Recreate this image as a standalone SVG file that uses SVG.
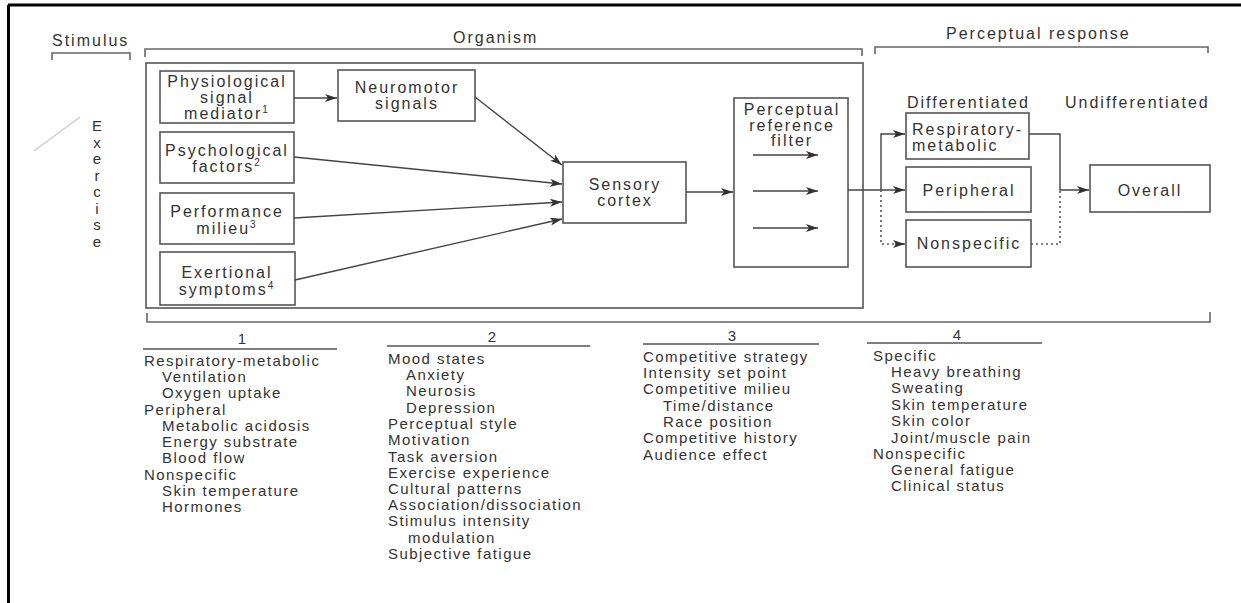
<svg xmlns="http://www.w3.org/2000/svg" width="1241" height="603" viewBox="0 0 1241 603">
<style>
  text { font-family: "Liberation Sans", Arial, sans-serif; fill: #333; }
  .h { font-size: 16px; letter-spacing: 2px; }
  .b { font-size: 16px; letter-spacing: 2px; text-anchor: middle; }
  .l { font-size: 15px; letter-spacing: 1.45px; }
  .n { font-size: 15px; text-anchor: middle; }
  .ex { font-size: 15px; text-anchor: middle; }
  .box { fill: #fff; stroke: #555; stroke-width: 1.6; }
  .br { fill: none; stroke: #666; stroke-width: 1.6; }
  .c { fill: none; stroke: #444; stroke-width: 1.4; }
  .d { fill: none; stroke: #555; stroke-width: 1.6; stroke-dasharray: 2 3; }
  .u { stroke: #555; stroke-width: 1.4; }
</style>
<defs>
  <marker id="ah" markerWidth="12" markerHeight="8" refX="12" refY="4" orient="auto" markerUnits="userSpaceOnUse">
    <path d="M0,0 L12,4 L0,8 L3,4 z" fill="#333"/>
  </marker>
</defs>
<rect width="1241" height="603" fill="#fff"/>
<!-- outer frame (top and left) -->
<line x1="8" y1="5" x2="1241" y2="5" stroke="#000" stroke-width="3"/>
<line x1="8.5" y1="5" x2="8.5" y2="603" stroke="#000" stroke-width="3"/>

<!-- headings and brackets -->
<g id="headings">
  <text class="h" x="52" y="46">Stimulus</text>
  <path class="br" d="M52,60 V53 H130 V60"/>
  <text class="h" x="453" y="43">Organism</text>
  <path class="br" d="M145,57 V49 H862 V56"/>
  <text class="h" x="946" y="39">Perceptual response</text>
  <path class="br" d="M875,54 V47 H1208 V53"/>
  <path class="br" d="M147,313 V322 H1210 V312"/>
  <text class="h" x="907" y="108">Differentiated</text>
  <text class="h" x="1065" y="108">Undifferentiated</text>
</g>

<!-- stimulus -->
<g id="exercise">
  <line x1="34" y1="151" x2="80" y2="117" stroke="#ccc" stroke-width="1.5"/>
  <text class="ex" x="97" y="131">E</text>
  <text class="ex" x="97" y="147.5">x</text>
  <text class="ex" x="97" y="164">e</text>
  <text class="ex" x="97" y="180.5">r</text>
  <text class="ex" x="97" y="197">c</text>
  <text class="ex" x="97" y="213.5">i</text>
  <text class="ex" x="97" y="230">s</text>
  <text class="ex" x="97" y="246.5">e</text>
</g>

<!-- organism container -->
<g id="organism">
  <rect class="box" x="146" y="63" width="717" height="245"/>
</g>

<g id="physiological">
  <rect class="box" x="160" y="71" width="134" height="52"/>
  <text class="b" x="227" y="87">Physiological</text>
  <text class="b" x="227" y="103">signal</text>
  <text class="b" x="227" y="119">mediator<tspan font-size="10" dy="-6">1</tspan></text>
</g>
<g id="psychological">
  <rect class="box" x="160" y="132" width="134" height="51"/>
  <text class="b" x="227" y="156">Psychological</text>
  <text class="b" x="227" y="172">factors<tspan font-size="10" dy="-6">2</tspan></text>
</g>
<g id="performance">
  <rect class="box" x="160" y="193" width="134" height="51"/>
  <text class="b" x="227" y="217">Performance</text>
  <text class="b" x="227" y="234">milieu<tspan font-size="10" dy="-6">3</tspan></text>
</g>
<g id="exertional">
  <rect class="box" x="160" y="252" width="135" height="53"/>
  <text class="b" x="227" y="278">Exertional</text>
  <text class="b" x="227" y="295">symptoms<tspan font-size="10" dy="-6">4</tspan></text>
</g>
<g id="neuromotor">
  <rect class="box" x="338" y="70" width="137" height="51"/>
  <text class="b" x="407" y="93">Neuromotor</text>
  <text class="b" x="407" y="109">signals</text>
</g>
<g id="sensory">
  <rect class="box" x="563" y="162" width="123" height="61"/>
  <text class="b" x="625" y="190">Sensory</text>
  <text class="b" x="625" y="206">cortex</text>
</g>
<g id="filter">
  <rect class="box" x="734" y="98" width="114" height="169"/>
  <text class="b" x="792" y="115">Perceptual</text>
  <text class="b" x="792" y="131">reference</text>
  <text class="b" x="792" y="146">filter</text>
</g>
<g id="respiratory">
  <rect class="box" x="906" y="113" width="123" height="46"/>
  <text class="h" x="912" y="135">Respiratory-</text>
  <text class="h" x="912" y="151">metabolic</text>
</g>
<g id="peripheral">
  <rect class="box" x="906" y="167" width="125" height="45"/>
  <text class="b" x="969" y="196">Peripheral</text>
</g>
<g id="nonspecific">
  <rect class="box" x="906" y="220" width="125" height="47"/>
  <text class="b" x="969" y="249">Nonspecific</text>
</g>
<g id="overall">
  <rect class="box" x="1090" y="165" width="120" height="47"/>
  <text class="b" x="1150" y="196">Overall</text>
</g>

<!-- connectors -->
<g id="connectors">
  <line class="c" x1="294" y1="98" x2="337" y2="98" marker-end="url(#ah)"/>
  <line class="c" x1="475" y1="97" x2="562" y2="165" marker-end="url(#ah)"/>
  <line class="c" x1="294" y1="157" x2="562" y2="184" marker-end="url(#ah)"/>
  <line class="c" x1="294" y1="218" x2="562" y2="202" marker-end="url(#ah)"/>
  <line class="c" x1="295" y1="280" x2="562" y2="219" marker-end="url(#ah)"/>
  <line class="c" x1="686" y1="192" x2="733" y2="192" marker-end="url(#ah)"/>
  <line class="c" x1="753" y1="155" x2="818" y2="155" marker-end="url(#ah)"/>
  <line class="c" x1="753" y1="191" x2="818" y2="191" marker-end="url(#ah)"/>
  <line class="c" x1="753" y1="228" x2="818" y2="228" marker-end="url(#ah)"/>
  <line class="c" x1="848" y1="190" x2="905" y2="190" marker-end="url(#ah)"/>
  <path class="c" d="M881,190 V134 H905" marker-end="url(#ah)"/>
  <path class="d" d="M881,190 V244 H905"/>
  <line class="c" x1="895" y1="244" x2="905" y2="244" marker-end="url(#ah)"/>
  <path class="c" d="M1029,134 H1060 V190 H1089" marker-end="url(#ah)"/>
  <path class="d" d="M1031,244 H1060 V190"/>
</g>

<!-- notes lists -->
<g id="list1">
  <text class="n" x="242" y="344">1</text>
  <line class="u" x1="143" y1="349" x2="337" y2="349"/>
  <text class="l">
    <tspan x="144" y="366">Respiratory-metabolic</tspan>
    <tspan x="162" y="382">Ventilation</tspan>
    <tspan x="162" y="398">Oxygen uptake</tspan>
    <tspan x="144" y="415">Peripheral</tspan>
    <tspan x="162" y="431">Metabolic acidosis</tspan>
    <tspan x="162" y="447">Energy substrate</tspan>
    <tspan x="162" y="463">Blood flow</tspan>
    <tspan x="144" y="480">Nonspecific</tspan>
    <tspan x="162" y="496">Skin temperature</tspan>
    <tspan x="162" y="512">Hormones</tspan>
  </text>
</g>
<g id="list2">
  <text class="n" x="492" y="342">2</text>
  <line class="u" x1="387" y1="346" x2="590" y2="346"/>
  <text class="l">
    <tspan x="388" y="364">Mood states</tspan>
    <tspan x="406" y="380">Anxiety</tspan>
    <tspan x="406" y="396">Neurosis</tspan>
    <tspan x="406" y="413">Depression</tspan>
    <tspan x="388" y="429">Perceptual style</tspan>
    <tspan x="388" y="445">Motivation</tspan>
    <tspan x="388" y="462">Task aversion</tspan>
    <tspan x="388" y="478">Exercise experience</tspan>
    <tspan x="388" y="494">Cultural patterns</tspan>
    <tspan x="388" y="510">Association/dissociation</tspan>
    <tspan x="388" y="526">Stimulus intensity</tspan>
    <tspan x="408" y="543">modulation</tspan>
    <tspan x="388" y="559">Subjective fatigue</tspan>
  </text>
</g>
<g id="list3">
  <text class="n" x="732" y="341">3</text>
  <line class="u" x1="643" y1="344" x2="819" y2="344"/>
  <text class="l">
    <tspan x="643" y="362">Competitive strategy</tspan>
    <tspan x="643" y="378">Intensity set point</tspan>
    <tspan x="643" y="394">Competitive milieu</tspan>
    <tspan x="663" y="411">Time/distance</tspan>
    <tspan x="663" y="427">Race position</tspan>
    <tspan x="643" y="443">Competitive history</tspan>
    <tspan x="643" y="460">Audience effect</tspan>
  </text>
</g>
<g id="list4">
  <text class="n" x="957" y="340">4</text>
  <line class="u" x1="867" y1="343" x2="1042" y2="343"/>
  <text class="l">
    <tspan x="873" y="361">Specific</tspan>
    <tspan x="891" y="377">Heavy breathing</tspan>
    <tspan x="891" y="393">Sweating</tspan>
    <tspan x="891" y="410">Skin temperature</tspan>
    <tspan x="891" y="426">Skin color</tspan>
    <tspan x="891" y="443">Joint/muscle pain</tspan>
    <tspan x="873" y="459">Nonspecific</tspan>
    <tspan x="891" y="475">General fatigue</tspan>
    <tspan x="891" y="491">Clinical status</tspan>
  </text>
</g>
</svg>
